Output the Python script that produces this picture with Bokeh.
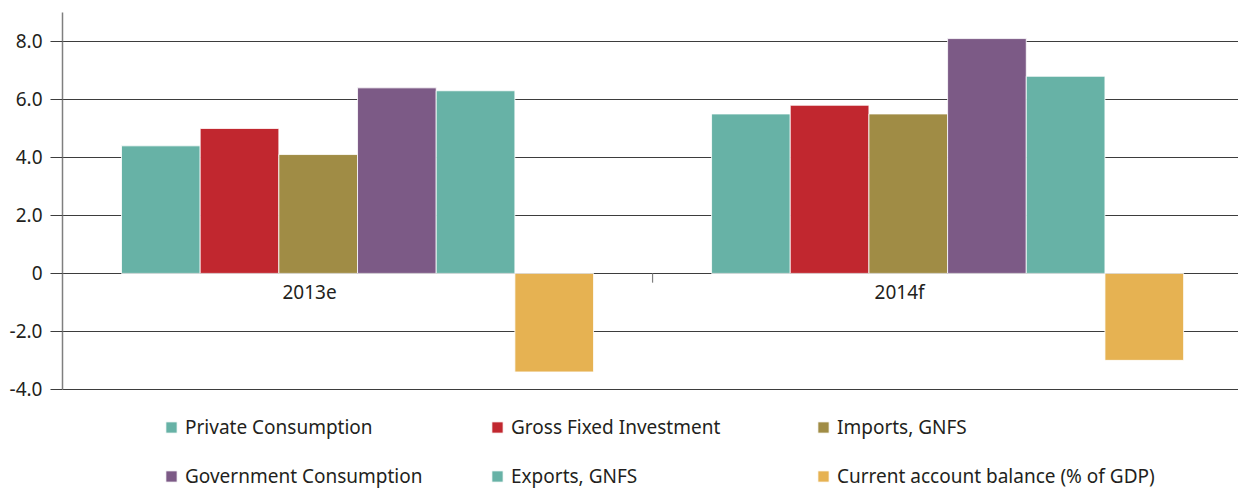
from bokeh.plotting import figure
from bokeh.models import Range1d, FixedTicker, Legend, LegendItem, NumeralTickFormatter, ColumnDataSource
from bokeh.core.properties import value
from bokeh.embed import file_html
from bokeh.resources import INLINE

# ---- data ----
categories = ["2013e", "2014f"]
series_names = [
    "Private Consumption",
    "Gross Fixed Investment",
    "Imports, GNFS",
    "Government Consumption",
    "Exports, GNFS",
    "Current account balance (% of GDP)",
]
private_consumption = [4.4, 5.5]
gross_fixed_investment = [5.0, 5.8]
imports_gnfs = [4.1, 5.5]
government_consumption = [6.4, 8.1]
exports_gnfs = [6.3, 6.8]
current_account_balance = [-3.4, -3.0]
y_ticks = [-4, -2, 0, 2, 4, 6, 8]

series_values = [private_consumption, gross_fixed_investment, imports_gnfs,
                 government_consumption, exports_gnfs, current_account_balance]
colors = ["#67b2a6", "#c1272f", "#a08c45", "#7c5a86", "#67b2a6", "#e6b252"]

FONT = "Noto Sans"
TEXT_COLOR = "#231f20"

p = figure(width=1238, height=488, output_backend="svg", toolbar_location=None,
           x_range=Range1d(0, 1.993), y_range=Range1d(-7.42, 9),
           min_border_left=62, min_border_right=0, min_border_top=12, min_border_bottom=0)
p.outline_line_color = None
p.background_fill_color = "white"
p.border_fill_color = "white"

n = len(series_names)
group_width = 0.8
bar_w = group_width / n
items = []
for j, (name, vals, col) in enumerate(zip(series_names, series_values, colors)):
    xs = [i + 0.5 + (j - (n - 1) / 2) * bar_w for i in range(len(categories))]
    src = ColumnDataSource(dict(x=xs, top=vals))
    r = p.vbar(x="x", top="top", bottom=0, width=bar_w, source=src,
               fill_color=col, line_color="white", line_width=0.8)
    items.append(LegendItem(label=name, renderers=[r]))

# category labels under the zero line
p.text(x=[i + 0.5 for i in range(len(categories))], y=[0] * len(categories), text=categories,
       text_align="center", text_baseline="middle", x_offset=-48, y_offset=19,
       text_font=value(FONT), text_font_size="19px", text_color=TEXT_COLOR)

# divider tick between categories
bounds = [i for i in range(1, len(categories))]
p.segment(x0=bounds, x1=bounds, y0=[0] * len(bounds), y1=[-0.32] * len(bounds),
          line_color="#7f7f7f", line_width=1.2)

# axes
p.xaxis.visible = False
p.xgrid.visible = False
p.yaxis.bounds = (y_ticks[0], 9)
p.yaxis.ticker = FixedTicker(ticks=y_ticks)
p.yaxis.formatter = NumeralTickFormatter(format="0.0")
p.yaxis.major_label_overrides = {0: "0"}
p.yaxis.axis_line_color = "#7f7f7f"
p.yaxis.axis_line_width = 1.5
p.yaxis.major_tick_line_color = "#3d3d3d"
p.yaxis.major_tick_line_width = 1.2
p.yaxis.major_tick_out = 12
p.yaxis.major_tick_in = 0
p.yaxis.minor_tick_line_color = None
p.yaxis.major_label_standoff = 8
p.yaxis.major_label_text_font = FONT
p.yaxis.major_label_text_font_size = "19px"
p.yaxis.major_label_text_color = TEXT_COLOR
p.ygrid.ticker = FixedTicker(ticks=y_ticks)
p.ygrid.grid_line_color = "#3d3d3d"
p.ygrid.grid_line_width = 1.2

legend = Legend(items=items, orientation="horizontal", ncols=3,
                location=(102, -1), margin=0, padding=0, spacing=23,
                glyph_width=14, glyph_height=14, label_standoff=7,
                label_width=282, label_height=24,
                label_text_font=FONT, label_text_font_size="19px", label_text_color=TEXT_COLOR,
                border_line_alpha=0, background_fill_alpha=0)
p.add_layout(legend, "center")

open("out.html", "w").write(file_html(p, INLINE))
